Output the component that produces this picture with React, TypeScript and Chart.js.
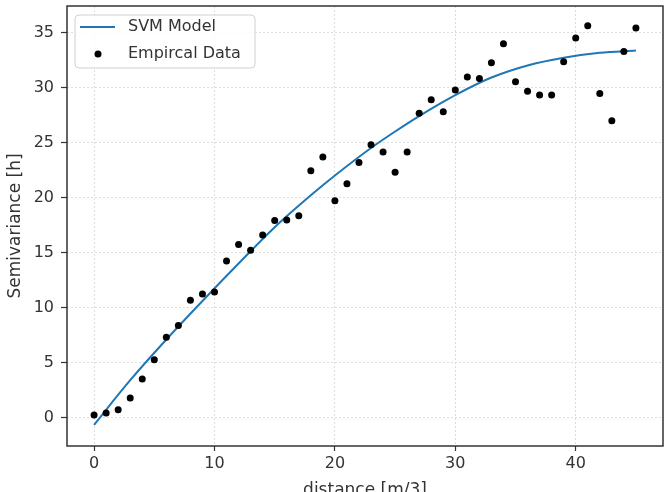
import { useEffect, useRef } from "react";
import { Chart, registerables } from "chart.js";

Chart.register(...registerables);

// Empirical semivariogram: lag distance and measured semivariance
const lagDistances = [
  0, 1, 2, 3, 4, 5, 6, 7, 8, 9, 10, 11, 12, 13, 14, 15, 16, 17, 18, 19, 20, 21, 22,
  23, 24, 25, 26, 27, 28, 29, 30, 31, 32, 33, 34, 35, 36, 37, 38, 39, 40, 41, 42, 43,
  44, 45,
];
const empiricalSemivariance = [
  0.24, 0.42, 0.72, 1.78, 3.5, 5.26, 7.3, 8.37, 10.66, 11.24, 11.42, 14.23, 15.74,
  15.2, 16.59, 17.92, 17.95, 18.34, 22.42, 23.69, 19.7, 21.24, 23.17, 24.8, 24.14,
  22.3, 24.14, 27.65, 28.89, 27.8, 29.76, 30.94, 30.82, 32.24, 33.96, 30.52, 29.65,
  29.31, 29.31, 32.33, 34.5, 35.6, 29.46, 26.98, 33.27, 35.39,
];

// Fitted SVM model curve
const modelDistances = [0, 3, 6, 9, 12, 15, 18, 20, 23, 25, 27, 30, 33, 36, 39, 42, 45];
const modelSemivariance = [
  -0.65, 3.4, 7.1, 10.6, 14.0, 17.3, 20.2, 22.0, 24.5, 26.0, 27.4, 29.3, 30.9, 32.0,
  32.7, 33.15, 33.35,
];

const xTickValues = [0, 10, 20, 30, 40];
const yTickValues = [0, 5, 10, 15, 20, 25, 30, 35];

const modelLabel = "SVM Model";
const dataLabel = "Empircal Data";
const xAxisTitle = "distance [m/3]";
const yAxisTitle = "Semivariance [h]";

const FONT = "'DejaVu Sans', sans-serif";
const TEXT_COLOR = "#333333";
const MODEL_COLOR = "#1f77b4";

// Closed box around the plotting area
const framePlugin = {
  id: "axesFrame",
  afterDatasetsDraw(chart: any) {
    const { ctx, chartArea } = chart;
    const { left, top, right, bottom } = chartArea;
    ctx.save();
    ctx.strokeStyle = "#333333";
    ctx.lineWidth = 1.5;
    ctx.strokeRect(left, top, right - left, bottom - top);
    ctx.restore();
  },
};

// Legend box drawn inside the upper-left corner of the plot
const insetLegendPlugin = {
  id: "insetLegend",
  afterDraw(chart: any) {
    const { ctx, chartArea } = chart;
    const x0 = chartArea.left + 8;
    const y0 = chartArea.top + 9;
    const w = 180;
    const h = 53;
    ctx.save();
    ctx.beginPath();
    ctx.roundRect(x0, y0, w, h, 4);
    ctx.fillStyle = "rgba(255,255,255,0.85)";
    ctx.fill();
    ctx.strokeStyle = "#d0d0d0";
    ctx.lineWidth = 1;
    ctx.stroke();

    // model entry
    ctx.beginPath();
    ctx.moveTo(x0 + 5, y0 + 12);
    ctx.lineTo(x0 + 40, y0 + 12);
    ctx.strokeStyle = MODEL_COLOR;
    ctx.lineWidth = 2;
    ctx.stroke();

    // data entry
    ctx.beginPath();
    ctx.arc(x0 + 23, y0 + 39, 3.5, 0, Math.PI * 2);
    ctx.fillStyle = "#000";
    ctx.fill();

    ctx.fillStyle = TEXT_COLOR;
    ctx.font = `16px ${FONT}`;
    ctx.textBaseline = "middle";
    ctx.textAlign = "left";
    ctx.fillText(modelLabel, x0 + 53, y0 + 12);
    ctx.fillText(dataLabel, x0 + 53, y0 + 38.5);
    ctx.restore();
  },
};

export default function App() {
  const canvasRef = useRef<HTMLCanvasElement | null>(null);

  useEffect(() => {
    const canvas = canvasRef.current;
    if (!canvas) return;

    const tickFont = { family: FONT, size: 16 };

    const chart = new Chart(canvas, {
      type: "scatter",
      data: {
        datasets: [
          {
            type: "scatter",
            label: dataLabel,
            data: lagDistances.map((x, i) => ({ x, y: empiricalSemivariance[i] })),
            backgroundColor: "#000000",
            borderColor: "#000000",
            pointRadius: 3.5,
            pointBorderWidth: 0,
            order: 1,
          },
          {
            type: "line",
            label: modelLabel,
            data: modelDistances.map((x, i) => ({ x, y: modelSemivariance[i] })),
            borderColor: MODEL_COLOR,
            borderWidth: 2,
            pointRadius: 0,
            fill: false,
            cubicInterpolationMode: "monotone",
            order: 2,
          },
        ] as any,
      },
      options: {
        responsive: false,
        animation: false,
        layout: { padding: { top: 6, right: 4, left: 0, bottom: 0 } },
        plugins: {
          legend: { display: false },
          tooltip: { enabled: false },
        },
        scales: {
          x: {
            type: "linear",
            min: -2.25,
            max: 47.25,
            afterBuildTicks: (scale: any) => {
              scale.ticks = xTickValues.map((v) => ({ value: v }));
            },
            afterFit: (scale: any) => {
              scale.height = 46;
              scale.paddingLeft = 0;
              scale.paddingRight = 0;
            },
            grid: {
              color: "#dcdcdc",
              lineWidth: 1,
              drawTicks: true,
              tickLength: 5,
              tickColor: "#333333",
              tickWidth: 1.2,
            },
            border: { display: false, dash: [2, 2] },
            ticks: {
              font: tickFont,
              color: TEXT_COLOR,
              padding: 3,
              maxRotation: 0,
              callback: (v: any) => String(v),
            },
            title: {
              display: true,
              text: xAxisTitle,
              font: { family: FONT, size: 17 },
              color: TEXT_COLOR,
              padding: { top: 0, bottom: -8.5 },
            },
          },
          y: {
            type: "linear",
            min: -2.58,
            max: 37.4,
            afterBuildTicks: (scale: any) => {
              scale.ticks = yTickValues.map((v) => ({ value: v }));
            },
            afterFit: (scale: any) => {
              scale.width = 67;
              scale.paddingTop = 0;
              scale.paddingBottom = 0;
            },
            grid: {
              color: "#dcdcdc",
              lineWidth: 1,
              drawTicks: true,
              tickLength: 6,
              tickColor: "#333333",
              tickWidth: 1.2,
            },
            border: { display: false, dash: [2, 2] },
            ticks: {
              font: tickFont,
              color: TEXT_COLOR,
              padding: 7,
              callback: (v: any) => String(v),
            },
            title: {
              display: true,
              text: yAxisTitle,
              font: { family: FONT, size: 17 },
              color: TEXT_COLOR,
              padding: { top: 5, bottom: 0 },
            },
          },
        },
      },
      plugins: [framePlugin, insetLegendPlugin],
    });

    return () => chart.destroy();
  }, []);

  return (
    <div style={{ position: "absolute", left: 0, top: 0, width: 667, height: 492, background: "#fff" }}>
      <canvas ref={canvasRef} width={667} height={492} style={{ display: "block" }} />
    </div>
  );
}
